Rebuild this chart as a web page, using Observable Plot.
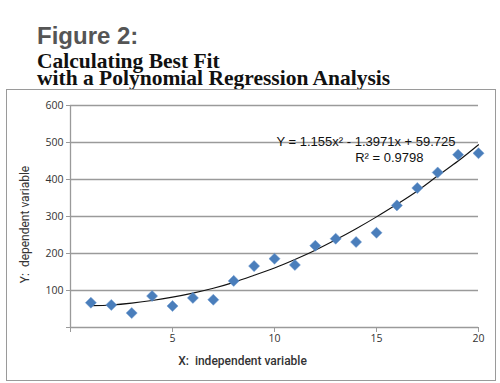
<!DOCTYPE html>
<html>
<head>
<meta charset="utf-8">
<script src="https://cdn.jsdelivr.net/npm/d3@7"></script>
<script src="https://cdn.jsdelivr.net/npm/@observablehq/plot@0.6"></script>
<style>
  html, body { margin: 0; padding: 0; background: #fff; }
  #wrap { position: relative; width: 500px; height: 383px; overflow: hidden; background: #fff; }
  .fig { position: absolute; left: 37px; top: 24px; font: bold 24px "Liberation Sans", Arial, sans-serif; color: #555; line-height: 1; white-space: nowrap; }
  .sub { position: absolute; left: 37px; top: 53px; font: bold 21.5px "Liberation Serif", "Times New Roman", serif; color: #111; line-height: 17px; white-space: nowrap; }
  #box { position: absolute; left: 6px; top: 89px; width: 488px; height: 290px; border: 1px solid #9a9a9a; }
  #chart { position: absolute; left: 0; top: 90px; }
</style>
</head>
<body>
<div id="wrap">
  <div class="fig">Figure 2:</div>
  <div class="sub">Calculating Best Fit<br>with a Polynomial Regression Analysis</div>
  <div id="box"></div>
  <div id="chart"></div>
</div>
<script>
const xValues = [1, 2, 3, 4, 5, 6, 7, 8, 9, 10, 11, 12, 13, 14, 15, 16, 17, 18, 19, 20];
const yValues = [67, 61, 39, 85, 58, 80, 75, 126, 166, 186, 169, 221, 240, 231, 256, 330, 377, 419, 467, 471];
// Fitted trend curve values
const trendValues = [59, 61, 66, 73, 82, 93, 106, 122, 141, 161, 184, 209, 237, 267, 299, 333, 369, 410, 450, 494];
// Axis ticks
const xTicks = [0, 5, 10, 15, 20];
const yTicks = [0, 100, 200, 300, 400, 500, 600];
const equationText = "Y = 1.155x\u00b2 - 1.3971x + 59.725";
const r2Text = "R\u00b2 = 0.9798";
const xLabel = "X:\u00a0 independent variable";
const yLabel = "Y:\u00a0 dependent variable";

const points = xValues.map((x, i) => ({x, y: yValues[i]}));
const trend = xValues.map((x, i) => ({x, y: trendValues[i]}));

const grey = "#9a9a9a";
const txt = "#333";
const font = "'Open Sans', 'Segoe UI', sans-serif";
const eqFont = "'Liberation Sans', Arial, sans-serif";

const chart = Plot.plot({
  width: 500,
  height: 290,
  marginLeft: 70,
  marginRight: 22,
  marginTop: 15,
  marginBottom: 53,
  style: {fontFamily: font, fontSize: "10.5px", color: txt, background: "transparent", overflow: "visible"},
  x: {domain: [0, 20]},
  y: {domain: [0, 600]},
  marks: [
    Plot.gridY(yTicks.filter(d => d > 0), {stroke: grey, strokeOpacity: 1, strokeWidth: 1.3}),
    Plot.ruleX([0], {stroke: grey, strokeWidth: 1.3}),
    Plot.ruleY([0], {stroke: grey, strokeWidth: 1.3}),
    Plot.axisY({ticks: yTicks, tickSize: 4, tickPadding: 3, stroke: grey, strokeOpacity: 1, tickFormat: d => d === 0 ? "" : d, label: null, fill: txt}),
    Plot.axisX({ticks: xTicks, tickSize: 5, tickPadding: 2, stroke: grey, strokeOpacity: 1, tickFormat: d => d === 0 ? "" : d, label: null, fill: txt}),
    Plot.line(trend, {x: "x", y: "y", curve: "natural", stroke: "#111", strokeWidth: 1.1}),
    Plot.dot(points, {x: "x", y: "y", symbol: "diamond2", r: 5, fill: "#4a7ebb", stroke: "#6f9bd0", strokeWidth: 0.5}),
    Plot.text([equationText], {frameAnchor: "top-right", text: d => d, textAnchor: "end", lineAnchor: "bottom", dx: -23, dy: 40, fontSize: 13, fontFamily: eqFont, fill: "#111"}),
    Plot.text([r2Text], {frameAnchor: "top-right", text: d => d, textAnchor: "end", lineAnchor: "bottom", dx: -55, dy: 56, fontSize: 13, fontFamily: eqFont, fill: "#111"}),
    Plot.text([xLabel], {frameAnchor: "bottom", text: d => d, lineAnchor: "bottom", dx: -32, dy: 37, fontSize: 12, fontWeight: 500, fontFamily: "Roboto, sans-serif", fill: txt}),
    Plot.text([yLabel], {frameAnchor: "left", text: d => d, textAnchor: "middle", rotate: -90, dx: -45, dy: 8, fontSize: 12, fontWeight: 400, fontFamily: "Roboto, sans-serif", fill: txt})
  ]
});
document.getElementById("chart").appendChild(chart);
</script>
</body>
</html>
